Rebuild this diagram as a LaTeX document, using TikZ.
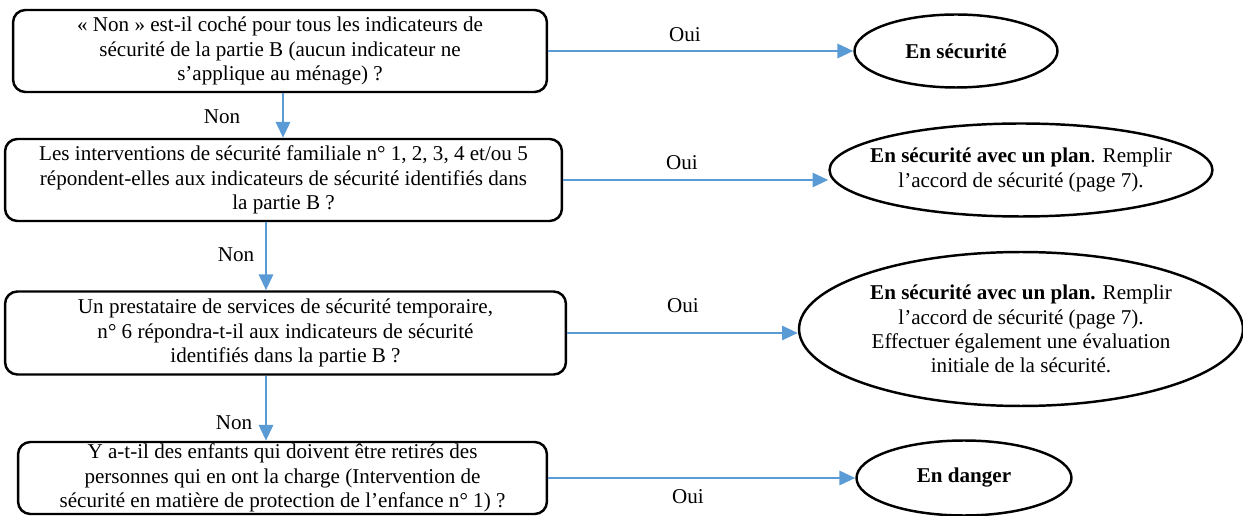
\documentclass[tikz,border=0pt]{standalone}
\usepackage{fontspec}
\setmainfont{Liberation Serif}
\usetikzlibrary{shapes,arrows.meta,calc}
\definecolor{bleu}{HTML}{5B9BD5}

\begin{document}
\begin{tikzpicture}[x=0.02cm,y=-0.02cm]
\tikzstyle{every node} = [font=\fontsize{12}{13.8}\selectfont, align=center];
\tikzstyle{question} = [draw, line width=1.4pt, rounded corners=7pt, inner sep=0pt];
\tikzstyle{issue} = [draw, ellipse, line width=1.4pt, inner sep=0pt];
\tikzstyle{fleche} = [draw=bleu, line width=1.6pt, -{Triangle[length=9pt,width=8pt]}];
\useasboundingbox (0,0) rectangle (1243,516);
% questions
\node[question, minimum width=10.68cm, minimum height=1.64cm] (Q1) at (280,51)
  {« Non » est-il coché pour tous les indicateurs de\\ sécurité de la partie B (aucun indicateur ne\\ s'applique au ménage) ?};
\node[question, minimum width=11.14cm, minimum height=1.64cm] (Q2) at (283.5,180)
  {Les interventions de sécurité familiale n° 1, 2, 3, 4 et/ou 5\\ répondent-elles aux indicateurs de sécurité identifiés dans\\ la partie B ?};
\node[question, minimum width=11.22cm, minimum height=1.66cm] (Q3) at (285.5,333)
  {Un prestataire de services de sécurité temporaire,\\ n° 6 répondra-t-il aux indicateurs de sécurité\\ identifiés dans la partie B ?};
\node[question, minimum width=10.58cm, minimum height=1.44cm] (Q4) at (282.5,478)
  {Y a-t-il des enfants qui doivent être retirés des\\ personnes qui en ont la charge (Intervention de\\ sécurité en matière de protection de l'enfance n° 1) ?};
% issues
\node[issue, minimum width=4.06cm, minimum height=1.46cm] (R1) at (956,51) {\textbf{En sécurité}};
\node[issue, inner xsep=-0.32cm, minimum width=7.66cm, minimum height=1.86cm] (R2) at (1021,170)
  {\textbf{En sécurité avec un plan}. Remplir\\ l'accord de sécurité (page 7).};
\node[issue, minimum width=8.88cm, minimum height=3.08cm] (R3) at (1021,329)
  {\textbf{En sécurité avec un plan.} Remplir\\ l'accord de sécurité (page 7).\\ Effectuer également une évaluation\\ initiale de la sécurité.};
\node[issue, minimum width=4.3cm, minimum height=1.5cm] (R4) at (964,478) {\textbf{En danger}};
% labels
\node (oui1) at (685,35) {Oui};
\node (oui2) at (682,163) {Oui};
\node (oui3) at (683,306) {Oui};
\node (oui4) at (688,497) {Oui};
\node (non1) at (222,117) {Non};
\node (non2) at (236,255) {Non};
\node (non3) at (234,423) {Non};
% arrows
\draw[fleche] (Q1.east) -- (Q1.east -| R1.west);
\draw[fleche] (Q2.east) -- (Q2.east -| R2.west);
\draw[fleche] (Q3.east) -- (Q3.east -| R3.west);
\draw[fleche] (Q4.east) -- (Q4.east -| R4.west);
\draw[fleche] ([xshift=0.06cm]Q1.south) -- ([xshift=0.06cm]Q1.south |- Q2.north);
\draw[fleche] ([xshift=-0.35cm]Q2.south) -- ([xshift=-0.35cm]Q2.south |- Q3.north);
\draw[fleche] ([xshift=-0.39cm]Q3.south) -- ([xshift=-0.39cm]Q3.south |- Q4.north);
\end{tikzpicture}
\end{document}
